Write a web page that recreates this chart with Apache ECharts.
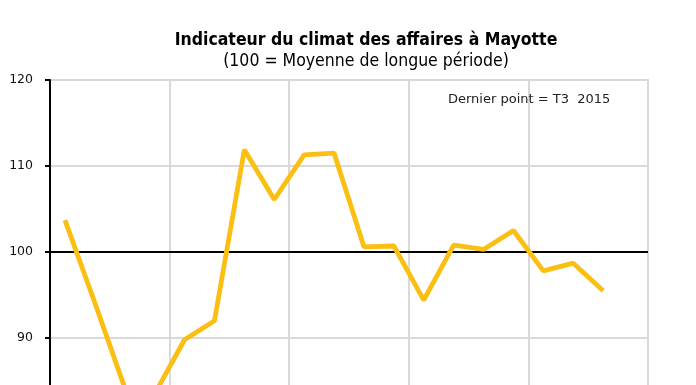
<!DOCTYPE html>
<html>
<head>
<meta charset="utf-8">
<script src="https://cdn.jsdelivr.net/npm/echarts@6/dist/echarts.min.js"></script>
<style>
html,body{margin:0;padding:0;background:#fff;overflow:hidden;}
#c{width:696px;height:440px;}
</style>
</head>
<body>
<div id="c"></div>
<script>
const categories = [
  'T1 2011','T2 2011','T3 2011','T4 2011',
  'T1 2012','T2 2012','T3 2012','T4 2012',
  'T1 2013','T2 2013','T3 2013','T4 2013',
  'T1 2014','T2 2014','T3 2014','T4 2014',
  'T1 2015','T2 2015','T3 2015','T4 2015'
];
const climat = [
  103.7, 94.1, 84.2, 83.5,
  89.8, 92.0, 111.9, 106.1,
  111.3, 111.5, 100.6, 100.7,
  94.4, 100.8, 100.3, 102.5,
  97.8, 98.7, 95.5, null
];
const yTicks = [80, 90, 100, 110, 120];
const titleText = 'Indicateur du climat des affaires à Mayotte';
const subtitleText = '(100 = Moyenne de longue période)';
const noteText = 'Dernier point = T3  2015';

const chart = echarts.init(document.getElementById('c'), null, {renderer: 'canvas'});
chart.setOption({
  animation: false,
  backgroundColor: '#fff',
  title: {
    text: titleText,
    subtext: subtitleText,
    left: 361,
    top: 26,
    textAlign: 'center',
    itemGap: 3,
    textStyle: {fontFamily: 'Liberation Sans Narrow, DejaVu Sans Condensed, sans-serif', fontWeight: 'bold', fontSize: 17.5, color: '#000'},
    subtextStyle: {fontFamily: 'Liberation Sans Narrow, DejaVu Sans Condensed, sans-serif', fontSize: 17.5, color: '#000'}
  },
  grid: {
    left: 50, right: 48, top: 80, height: 344,
    outerBoundsMode: 'none',
    show: true, borderColor: '#d9d9d9', borderWidth: 2, backgroundColor: 'transparent'
  },
  xAxis: {
    type: 'category',
    data: categories,
    boundaryGap: true,
    axisLine: {show: false},
    axisTick: {show: false},
    axisLabel: {show: false},
    splitLine: {show: true, interval: 3, lineStyle: {color: '#d9d9d9', width: 2}}
  },
  yAxis: {
    type: 'value',
    min: yTicks[0], max: yTicks[yTicks.length - 1], interval: 10,
    axisLine: {show: true, lineStyle: {color: '#000', width: 2}},
    axisTick: {show: true, length: 5, lineStyle: {color: '#000', width: 2}},
    axisLabel: {margin: 17, color: '#111', fontFamily: 'DejaVu Sans, Verdana, sans-serif', fontSize: 12.5},
    splitLine: {show: true, lineStyle: {color: '#d9d9d9', width: 2}}
  },
  graphic: [{
    type: 'text', left: 448, top: 93, z: 100,
    style: {text: noteText, fill: '#222', font: '13px "DejaVu Sans", Verdana, sans-serif'}
  }],
  series: [{
    type: 'line',
    data: climat,
    symbol: 'none',
    connectNulls: false,
    lineStyle: {color: '#FBBF13', width: 4.8},
    z: 3,
    markLine: {
      silent: true, symbol: 'none', z: 2,
      label: {show: false},
      lineStyle: {color: '#000', width: 2, type: 'solid'},
      data: [{yAxis: 100}]
    }
  }]
});
</script>
</body>
</html>
